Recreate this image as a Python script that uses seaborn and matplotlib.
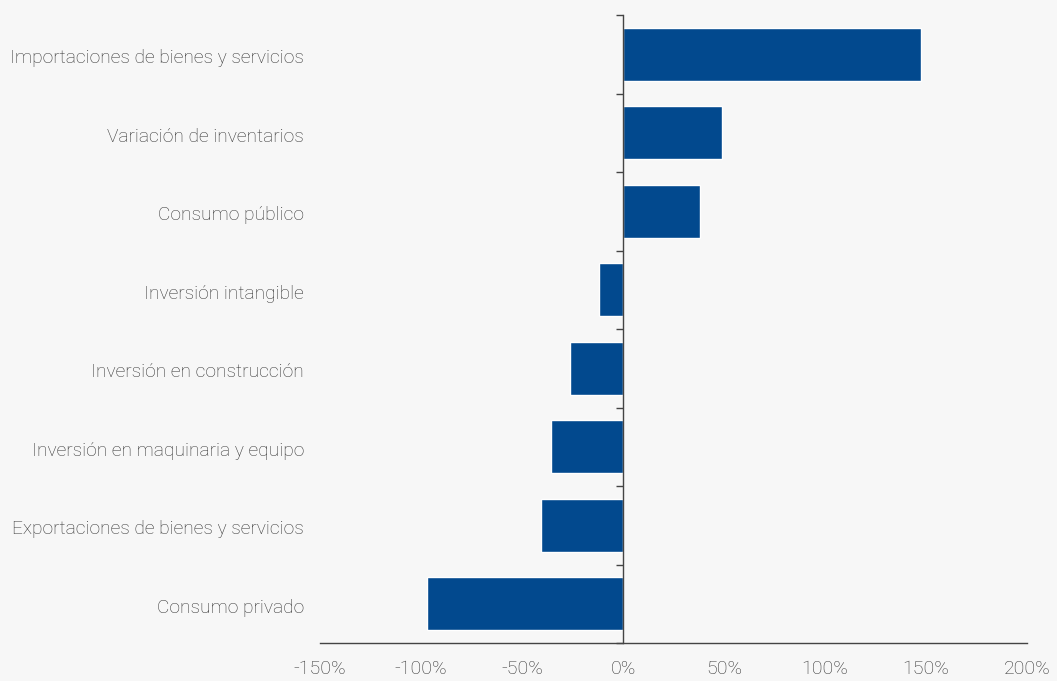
import matplotlib
matplotlib.use("Agg")
import matplotlib.pyplot as plt
import matplotlib.transforms as mtransforms
import seaborn as sns
import pandas as pd
import numpy as np

categories = [
    "Importaciones de bienes y servicios",
    "Variación de inventarios",
    "Consumo público",
    "Inversión intangible",
    "Inversión en construcción",
    "Inversión en maquinaria y equipo",
    "Exportaciones de bienes y servicios",
    "Consumo privado",
]
values = [147.5, 49.0, 38.0, -12.0, -26.0, -35.5, -40.5, -97.0]
xticks = [-150, -100, -50, 0, 50, 100, 150, 200]

bg = "#f7f7f7"
bar_color = "#02498e"
text_color = "#333333"
axis_color = "#444444"

sns.set_theme(style="white")
plt.rcParams["font.family"] = ["Roboto", "DejaVu Sans"]

df = pd.DataFrame({"cat": categories, "val": values})

fig = plt.figure(figsize=(10.57, 6.81), dpi=100, facecolor=bg)
ax = fig.add_axes([320 / 1057, 38 / 681, 707 / 1057, 628 / 681])
ax.set_facecolor(bg)

sns.barplot(data=df, y="cat", x="val", orient="h", color=bar_color,
            width=0.67, saturation=1, ax=ax)

n = len(categories)
ax.set_xlim(xticks[0], xticks[-1])
ax.set_ylim(n - 0.5, -0.5)

ax.set_xticks(xticks)
ax.set_xticklabels([f"{t}%" for t in xticks], fontsize=14, color=text_color,
                   fontweight="light")
ax.tick_params(axis="x", direction="out", length=5, width=1, color=axis_color, pad=7)

# left spine at zero
ax.spines["left"].set_position(("data", 0))
for s in ["top", "right"]:
    ax.spines[s].set_visible(False)
for s in ["left", "bottom"]:
    ax.spines[s].set_color(axis_color)
    ax.spines[s].set_linewidth(1)
    ax.spines[s].set_zorder(5)

ax.set_yticks(np.arange(n + 1) - 0.5, minor=True)
ax.set_yticks([])
ax.tick_params(axis="y", which="minor", direction="out", length=5, width=1,
               color=axis_color, left=True)
ax.set_xlabel("")
ax.set_ylabel("")

trans = mtransforms.blended_transform_factory(ax.transAxes, ax.transData)
off = mtransforms.offset_copy(trans, fig=fig, x=-16, y=-2, units="dots")
for i, c in enumerate(categories):
    ax.text(0, i, c, transform=off, ha="right", va="center_baseline", fontsize=13.8,
            color=text_color, fontweight="light")

fig.savefig("out.png", dpi=100, facecolor=bg)
